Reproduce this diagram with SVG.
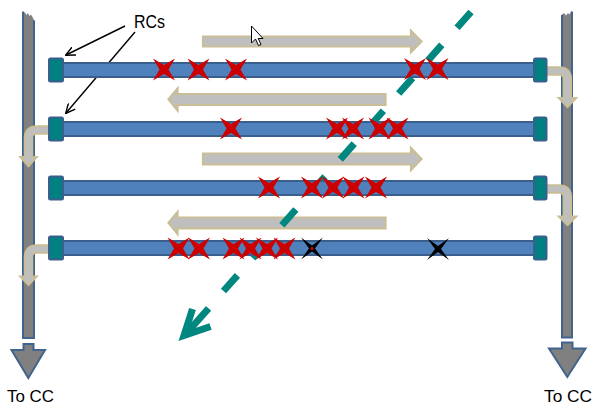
<svg xmlns="http://www.w3.org/2000/svg" xmlns:xlink="http://www.w3.org/1999/xlink" width="595" height="407" viewBox="0 0 595 407">
<style>
.bar{fill:#808080;stroke:none}
.barEdge{fill:none;stroke:#41648F;stroke-width:2}
.cc{fill:#808080;stroke:#41648F;stroke-width:2;stroke-linejoin:miter}
.pipe{fill:#4F81BD;stroke:#3A5F8C;stroke-width:2}
.rc{fill:#008080;stroke:#3A5F8C;stroke-width:2}
.flow{fill:#BFBFBF;stroke:#C9BE96;stroke-width:2.2;stroke-linejoin:miter}
.elbowOut{fill:none;stroke:#C9BE96;stroke-width:9.5}
.elbowIn{fill:none;stroke:#BFBFBF;stroke-width:5.5}
.xr{fill:#CC0000}
.xb{fill:#000000}
.lbl{font-family:"Liberation Sans",Arial,sans-serif;fill:#000000}
.call{fill:none;stroke:#000000;stroke-width:1.4}
.dash{fill:none;stroke:#00877F;stroke-width:7;stroke-dasharray:21 23}
.head{fill:none;stroke:#00877F;stroke-width:7;stroke-linejoin:miter;stroke-miterlimit:10}
</style>
<defs>
<marker id="open" viewBox="0 0 10 10" refX="9" refY="5" markerWidth="10" markerHeight="10" markerUnits="userSpaceOnUse" orient="auto">
<path d="M0,0.5 L9.5,5 L0,9.5" fill="none" stroke="#000" stroke-width="1.4"/>
</marker>
<path id="xred" d="M-11,-11 L0,-4.5 L11,-11 L4.5,0 L11,11 L0,4.5 L-11,11 L-4.5,0 Z"/>
<path id="xblk" d="M-11,-11 L0,-3 L11,-11 L3,0 L11,11 L0,3 L-11,11 L-3,0 Z"/>
</defs>

<g id="bar-left">
<polygon class="bar" points="22.5,12 25,12.5 26.5,15 28,13 29.5,16 31,14.5 33,18 34.5,21 34.5,338 22.5,338"/>
<path class="barEdge" d="M23,11.5 V338 H34 V20.5"/>
<polygon class="cc" points="23.5,344 33.5,344 33.5,350 45,350 28.3,378 11.5,350 23.5,350"/>
<text class="lbl" x="7" y="402" font-size="17" textLength="47" lengthAdjust="spacingAndGlyphs">To CC</text>
</g>
<g id="bar-right">
<polygon class="bar" points="561.5,15 564,13 566,15.5 568,13 569.5,14.5 571,11.5 572.5,12 572.5,337.5 561.5,337.5"/>
<path class="barEdge" d="M562,15 V337.5 H572 V11.5"/>
<polygon class="cc" points="562,342.5 572.5,342.5 572.5,348.5 585.5,348.5 567.3,377 549,348.5 562,348.5"/>
<text class="lbl" x="544" y="402" font-size="17" textLength="48" lengthAdjust="spacingAndGlyphs">To CC</text>
</g>

<g id="flow-arrows">
<polygon class="flow" points="203,36.5 411,36.5 411,31 421.5,41.5 411,52 411,46.5 203,46.5"/>
<polygon class="flow" points="385.5,94 177.5,94 177.5,88.5 168.5,99.3 177.5,110.5 177.5,105 385.5,105"/>
<polygon class="flow" points="203,153.5 411,153.5 411,148 421.5,159 411,170 411,164.5 203,164.5"/>
<polygon class="flow" points="385.5,217.5 177.5,217.5 177.5,212 168.5,222.8 177.5,234 177.5,228.3 385.5,228.3"/>
</g>

<g id="connectors">
<path class="dash" d="M471,12 L208,308.5"/>
<path class="head" d="M208.5,308.5 L184.5,335.5"/>
<path class="head" d="M192.5,309 L184,335.5 L210.5,326.5"/>
<path class="call" d="M125,26 L66,55" marker-end="url(#open)"/>
<path class="call" d="M135,32 L66,113" marker-end="url(#open)"/>
</g>

<g id="elbows">
<path class="elbowOut" d="M546,71 H559 Q567.3,71 567.3,79 V98.5"/>
<polygon class="flow" points="559,98 576,98 567.5,107"/>
<path class="elbowIn" d="M546,71 H559 Q567.3,71 567.3,79 V100"/>
<path class="elbowOut" d="M546,189 H559 Q567.3,189 567.3,197 V216.5"/>
<polygon class="flow" points="559,216.5 576,216.5 567.5,225"/>
<path class="elbowIn" d="M546,189 H559 Q567.3,189 567.3,197 V218.5"/>
<path class="elbowOut" d="M49,130 H37 Q28.5,130 28.5,138 V157.5"/>
<polygon class="flow" points="20.5,157 36.5,157 28.5,166"/>
<path class="elbowIn" d="M49,130 H37 Q28.5,130 28.5,138 V159"/>
<path class="elbowOut" d="M49,249 H37 Q28.5,249 28.5,257 V276.5"/>
<polygon class="flow" points="20.5,276.5 36.5,276.5 28.5,285"/>
<path class="elbowIn" d="M49,249 H37 Q28.5,249 28.5,257 V278.5"/>
</g>

<g id="line-1">
<rect class="pipe" x="63" y="63" width="471" height="14"/>
<rect class="rc" x="49" y="58.5" width="14" height="23" rx="1.5"/>
<rect class="rc" x="534" y="58.5" width="12.5" height="23" rx="1.5"/>
</g>
<g id="line-2">
<rect class="pipe" x="63" y="122" width="471" height="14"/>
<rect class="rc" x="49" y="117.5" width="14" height="23" rx="1.5"/>
<rect class="rc" x="534" y="117.5" width="12.5" height="23" rx="1.5"/>
</g>
<g id="line-3">
<rect class="pipe" x="63" y="181" width="471" height="14"/>
<rect class="rc" x="49" y="176.5" width="14" height="23" rx="1.5"/>
<rect class="rc" x="534" y="176.5" width="12.5" height="23" rx="1.5"/>
</g>
<g id="line-4">
<rect class="pipe" x="63" y="241" width="471" height="14"/>
<rect class="rc" x="49" y="236.5" width="14" height="23" rx="1.5"/>
<rect class="rc" x="534" y="236.5" width="12.5" height="23" rx="1.5"/>
</g>

<g id="marks">
<use href="#xred" class="xr" x="164" y="69.5"/>
<use href="#xred" class="xr" x="198.5" y="69.5"/>
<use href="#xred" class="xr" x="236" y="69.5"/>
<use href="#xred" class="xr" x="415" y="69"/>
<use href="#xred" class="xr" x="437.5" y="69"/>
<use href="#xred" class="xr" x="231" y="128.5"/>
<use href="#xred" class="xr" x="337" y="128.5"/>
<use href="#xred" class="xr" x="353" y="128.5"/>
<use href="#xred" class="xr" x="379.5" y="128.5"/>
<use href="#xred" class="xr" x="397.5" y="128.5"/>
<use href="#xred" class="xr" x="269" y="187.5"/>
<use href="#xred" class="xr" x="312" y="187.5"/>
<use href="#xred" class="xr" x="333" y="187.5"/>
<use href="#xred" class="xr" x="353.5" y="187.5"/>
<use href="#xred" class="xr" x="376" y="187.5"/>
<use href="#xred" class="xr" x="178.5" y="248.5"/>
<use href="#xred" class="xr" x="199" y="248.5"/>
<use href="#xred" class="xr" x="233.5" y="248.5"/>
<use href="#xred" class="xr" x="250.5" y="248.5"/>
<use href="#xred" class="xr" x="267" y="248.5"/>
<use href="#xred" class="xr" x="284.5" y="248.5"/>
<use href="#xblk" class="xb" x="312" y="248.5"/>
<circle cx="312" cy="248.5" r="1.6" fill="#CC0000"/>
<use href="#xblk" class="xb" x="438" y="249"/>
</g>

<g id="label-rcs">
<text class="lbl" x="134" y="28" font-size="19" textLength="31" lengthAdjust="spacingAndGlyphs">RCs</text>
</g>

<g id="cursor">
<polygon points="251.5,26 251.5,43 255.5,39 258.5,45.5 261,44.5 258.2,38.5 263,38.5" fill="#FFFFFF" stroke="#000000" stroke-width="1" stroke-linejoin="miter"/>
</g>
</svg>
